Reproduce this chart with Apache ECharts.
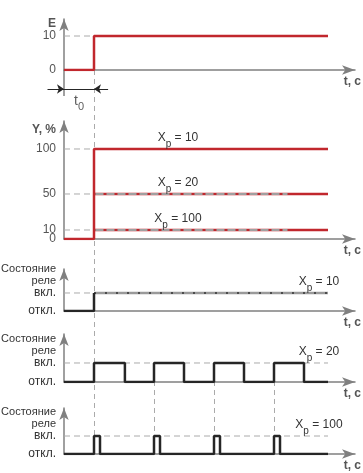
<!DOCTYPE html>
<html>
<head>
<meta charset="utf-8">
<script src="https://cdn.jsdelivr.net/npm/echarts@6/dist/echarts.min.js"></script>
<style>
  html, body { margin: 0; padding: 0; background: #fff; }
  #main { width: 363px; height: 473px; }
</style>
</head>
<body>
<div id="main"></div>
<script>
var FONT = "'Liberation Sans', Arial, sans-serif";
var RED = '#c1272d', AXIS = '#808080', DASH = '#aaaaaa', INK = '#262626';

// data
var t0 = 1, tEnd = 8.8;            // step moment and end of traces
var eTicks = [0, 10];              // E before / after the step
var yLevels = [100, 50, 10];       // output Y, % for each Xp
var yXp = [10, 20, 100];
var yTicks = [10, 50, 100];        // "0" sits on a second axis, too close to "10"
var yZeroTick = [0];
var yDashEnd = 7.45;               // gray dashes over the 50 and 10 lines
var relayTicks = [0, 1];
var relayNames = ['откл.', 'вкл.'];
var relayXp = [10, 20, 100];
var relay20On = [1, 3, 5, 7];
var relay20Off = [2.03, 4, 6, 8];
var relay100On = [1, 3, 5, 7];
var relay100Off = [1.2, 3.2, 5.2, 7.2];

// layout of the five stacked plots
var xMax = 9.7;
var panels = [
  { top: 19, height: 51, max: 15 },
  { top: 121, height: 118, max: 131.1 },
  { top: 269, height: 42, max: 2.333 },
  { top: 334, height: 48, max: 2.526 },
  { top: 408, height: 46, max: 2.556 }
];
function pxY(i, v) { var p = panels[i]; return p.top + p.height * (1 - v / p.max); }
var dimY = 89;

var rich = {
  m: { fontFamily: FONT, fontSize: 12, color: '#333', lineHeight: 14, verticalAlign: 'top' },
  s: { fontFamily: FONT, fontSize: 10, color: '#333', lineHeight: 10, padding: [7, 0, 0, 0], verticalAlign: 'top' }
};
function xpLabel(v) { return '{m|X}{s|p}{m| = ' + v + '}'; }

function pulses(on, off) {
  var pts = [[0, 0]];
  for (var i = 0; i < on.length; i++) {
    pts.push([on[i], 0], [on[i], 1], [off[i], 1], [off[i], 0]);
  }
  pts.push([tEnd, 0]);
  return pts;
}

var grids = panels.map(function (p) {
  return { left: 64, width: 291, top: p.top, height: p.height, containLabel: false, outerBoundsMode: 'none' };
});
grids.push({ left: 4, width: 351, top: 0, height: 473, containLabel: false, outerBoundsMode: 'none' });

var xAxes = panels.map(function (p, i) {
  return {
    gridIndex: i, type: 'value', min: 0, max: xMax,
    axisLine: { lineStyle: { color: AXIS, width: 1.5 }, symbol: ['none', 'arrow'], symbolSize: [7, 13] },
    axisTick: { show: false }, axisLabel: { show: false }, splitLine: { show: false },
    name: 't, c', nameLocation: 'end', nameGap: 6,
    nameTextStyle: { fontFamily: FONT, fontSize: 12, fontWeight: 'bold', color: '#555', align: 'right', verticalAlign: 'top', padding: [6, 0, 0, 0] }
  };
});
xAxes.push({ gridIndex: 5, type: 'value', min: -2, max: xMax, show: false });

var yNames = ['E', 'Y, %', 'Состояние\nреле', 'Состояние\nреле', 'Состояние\nреле'];
var yAxes = panels.map(function (p, i) {
  var relay = i >= 2;
  return {
    gridIndex: i, type: 'value', min: 0, max: p.max,
    axisLine: { lineStyle: { color: AXIS, width: 1.5 }, symbol: ['none', 'arrow'], symbolSize: [7, 12] },
    axisTick: { show: false }, splitLine: { show: false },
    axisLabel: {
      customValues: i === 0 ? eTicks : (i === 1 ? yTicks : relayTicks),
      formatter: function (v) { return relay ? relayNames[v] : String(v); },
      hideOverlap: false,
      fontFamily: FONT, fontSize: 12, color: relay ? '#333' : '#555', margin: 8
    },
    name: yNames[i], nameLocation: 'end',
    nameGap: i === 0 ? 1 : (i === 1 ? -3 : -5),
    nameTextStyle: {
      fontFamily: FONT, fontSize: relay ? 11 : 12, fontWeight: relay ? 'normal' : 'bold',
      color: relay ? '#333' : '#555', align: 'right', verticalAlign: 'top',
      lineHeight: 12, padding: [0, 8, 0, 0]
    }
  };
});
yAxes.push({ gridIndex: 5, type: 'value', min: 0, max: 473, inverse: true, show: false });
// second axis on the Y, % plot carrying only the "0" label
yAxes.push({
  gridIndex: 1, type: 'value', min: 0, max: panels[1].max, position: 'left',
  axisLine: { show: false }, axisTick: { show: false }, splitLine: { show: false },
  axisLabel: { customValues: yZeroTick, fontFamily: FONT, fontSize: 12, color: '#555', margin: 8 }
});

function line(ax, data, color, width, type, extra) {
  var s = {
    type: 'line', xAxisIndex: ax, yAxisIndex: ax, data: data, symbol: 'none',
    lineStyle: { color: color, width: width, type: type || 'solid' }, silent: true
  };
  if (extra) for (var k in extra) s[k] = extra[k];
  return s;
}
function xpMark(t, level, xp) {
  return {
    symbol: 'circle', symbolSize: 0,
    label: { show: true, position: 'top', distance: 3, formatter: function () { return xpLabel(xp); }, rich: rich },
    data: [{ coord: [t, level] }]
  };
}

var series = [];

// overlay: guides crossing the plots, t0 dimension
var guides = [{ coords: [[t0, pxY(0, 0)], [t0, pxY(4, 0)]] }];
relay100On.slice(1).forEach(function (t) { guides.push({ coords: [[t, pxY(3, 1)], [t, pxY(4, 0)]] }); });
series.push({
  type: 'lines', coordinateSystem: 'cartesian2d', xAxisIndex: 5, yAxisIndex: 5,
  data: guides, symbol: 'none', lineStyle: { color: DASH, width: 1, type: [5, 4], opacity: 1 }
});
series.push({
  type: 'lines', coordinateSystem: 'cartesian2d', xAxisIndex: 5, yAxisIndex: 5,
  data: [{ coords: [[0, pxY(0, 0)], [0, dimY + 7]] }], symbol: 'none',
  lineStyle: { color: AXIS, width: 1.5, opacity: 1 }
});
series.push({
  type: 'lines', coordinateSystem: 'cartesian2d', xAxisIndex: 5, yAxisIndex: 5,
  data: [{ coords: [[-0.55, dimY], [0, dimY]] }, { coords: [[t0 + 0.47, dimY], [t0, dimY]] }],
  symbol: ['none', 'arrow'], symbolSize: 7, lineStyle: { color: INK, width: 1, opacity: 1 }
});
series.push({
  type: 'lines', coordinateSystem: 'cartesian2d', xAxisIndex: 5, yAxisIndex: 5,
  data: [{ coords: [[0, dimY], [t0, dimY]] }], symbol: 'none', lineStyle: { color: INK, width: 1, opacity: 1 }
});
series.push({
  type: 'scatter', xAxisIndex: 5, yAxisIndex: 5, data: [[t0 / 2, dimY + 12]], symbolSize: 1,
  itemStyle: { color: 'rgba(0,0,0,0)' },
  label: { show: true, position: 'inside', formatter: function () { return '{m|t}{s|0}'; },
    rich: { m: { fontFamily: FONT, fontSize: 14, color: '#333', lineHeight: 14, verticalAlign: 'top' },
            s: { fontFamily: FONT, fontSize: 11, color: '#333', lineHeight: 10, padding: [7, 0, 0, 0], verticalAlign: 'top' } } }
});

// panel 1: E
series.push(line(0, [[0, eTicks[1]], [t0, eTicks[1]]], DASH, 1, [6, 4]));
series.push(line(0, [[0, eTicks[0]], [t0, eTicks[0]], [t0, eTicks[1]], [tEnd, eTicks[1]]], RED, 2.5));

// panel 2: Y, %
yLevels.forEach(function (lv) { series.push(line(1, [[0, lv], [t0, lv]], DASH, 1, [6, 4])); });
series.push(line(1, [[0, 0], [t0, 0], [t0, yLevels[0]], [tEnd, yLevels[0]]], RED, 2.5, null,
  { markPoint: xpMark(3.8, yLevels[0], yXp[0]) }));
yLevels.slice(1).forEach(function (lv, k) {
  series.push(line(1, [[t0, lv], [tEnd, lv]], RED, 2.5, null, { markPoint: xpMark(3.8, lv, yXp[k + 1]) }));
  series.push(line(1, [[t0 + 0.05, lv], [yDashEnd, lv]], '#a0a0a0', 2, [8, 3]));
});

// panel 3: relay, Xp = 10
series.push(line(2, [[0, 1], [t0, 1]], DASH, 1, [6, 4]));
series.push(line(2, [[t0, 1], [tEnd, 1]], '#9a9a9a', 2.5, null, { markPoint: xpMark(8.5, 1, relayXp[0]) }));
series.push(line(2, [[t0, 1], [tEnd, 1]], '#333', 1.5, [2, 9]));
series.push(line(2, [[0, 0], [t0, 0], [t0, 1]], INK, 2.5));

// panel 4: relay, Xp = 20
series.push(line(3, [[0, 1], [tEnd, 1]], DASH, 1, [6, 4], { markPoint: xpMark(8.5, 1, relayXp[1]) }));
series.push(line(3, pulses(relay20On, relay20Off), INK, 2.5));

// panel 5: relay, Xp = 100
series.push(line(4, [[0, 1], [tEnd, 1]], DASH, 1, [6, 4], { markPoint: xpMark(8.5, 1, relayXp[2]) }));
series.push(line(4, pulses(relay100On, relay100Off), INK, 2.5));

var chart = echarts.init(document.getElementById('main'), null, { renderer: 'canvas' });
chart.setOption({
  animation: false,
  backgroundColor: '#fff',
  grid: grids,
  xAxis: xAxes,
  yAxis: yAxes,
  series: series
});
</script>
</body>
</html>
